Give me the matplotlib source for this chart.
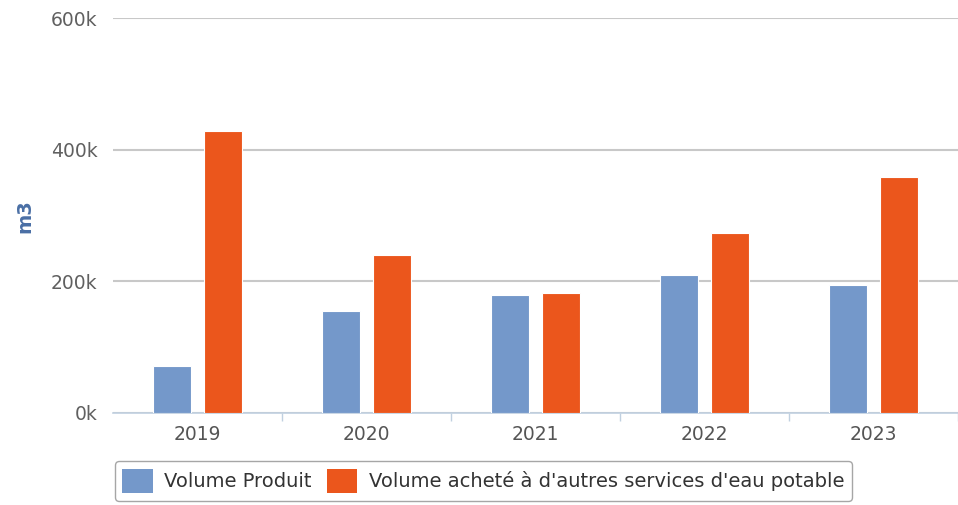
import matplotlib.pyplot as plt
from matplotlib.patches import Patch
from matplotlib.ticker import FuncFormatter, MultipleLocator
import numpy as np

years = ['2019', '2020', '2021', '2022', '2023']
volume_produit = [71500, 154000, 178500, 209000, 194000]
volume_achete = [428000, 239000, 181500, 273000, 358000]
series_names = ['Volume Produit', "Volume acheté à d'autres services d'eau potable"]
colors = ['#7498CA', '#EB561C']

plt.rcParams['font.family'] = 'DejaVu Sans'

fig = plt.figure(figsize=(9.58, 5.05), dpi=100)
# plot area runs off the right edge of the picture, like the reference
ax = fig.add_axes([113 / 958, 92.3 / 505, 845 / 958, 394.7 / 505])

x = np.arange(len(years))
w = 0.2235
off = 0.153
ax.bar(x - off, volume_produit, w, color=colors[0], edgecolor='#ffffff', linewidth=0.8, zorder=3)
ax.bar(x + off, volume_achete, w, color=colors[1], edgecolor='#ffffff', linewidth=0.8, zorder=3)

ax.set_xlim(-0.5, (958 - 113) / 170 - 0.5)
ax.set_ylim(0, 600000)
ax.yaxis.set_major_locator(MultipleLocator(200000))
ax.yaxis.set_major_formatter(FuncFormatter(lambda v, p: f'{int(v / 1000)}k'))
ax.grid(axis='y', color='#C8C8C8', linewidth=1.5, zorder=0)

ax.set_xticks(x)
ax.set_xticklabels(years)
ax.set_xticks(np.arange(len(years)) + 0.5, minor=True)
ax.tick_params(axis='x', which='major', length=0, pad=9, labelsize=13.5, labelcolor='#555555')
ax.tick_params(axis='x', which='minor', length=6, width=1, color='#C0D0E0')
ax.tick_params(axis='y', length=0, pad=11, labelsize=13.5, labelcolor='#606060')

for s in ['top', 'right', 'left']:
    ax.spines[s].set_visible(False)
ax.spines['bottom'].set_color('#C0D0E0')
ax.spines['bottom'].set_linewidth(1.2)

fig.text(25 / 958, 1 - 216 / 505, 'm3', rotation=90, ha='center', va='center',
         fontsize=14, fontweight='bold', color='#4A6FA5')

handles = [Patch(facecolor=c, edgecolor='none') for c in colors]
leg = fig.legend(handles, series_names, loc='center', bbox_to_anchor=(483.5 / 958, 24 / 505),
                 ncol=2, frameon=True, fancybox=True, fontsize=14,
                 handlelength=1.55, handleheight=1.55, handletextpad=0.6, columnspacing=0.8,
                 borderpad=0.4, edgecolor='#909090', labelcolor='#333333')
leg.get_frame().set_linewidth(1.0)

fig.savefig('out.png', dpi=100)
